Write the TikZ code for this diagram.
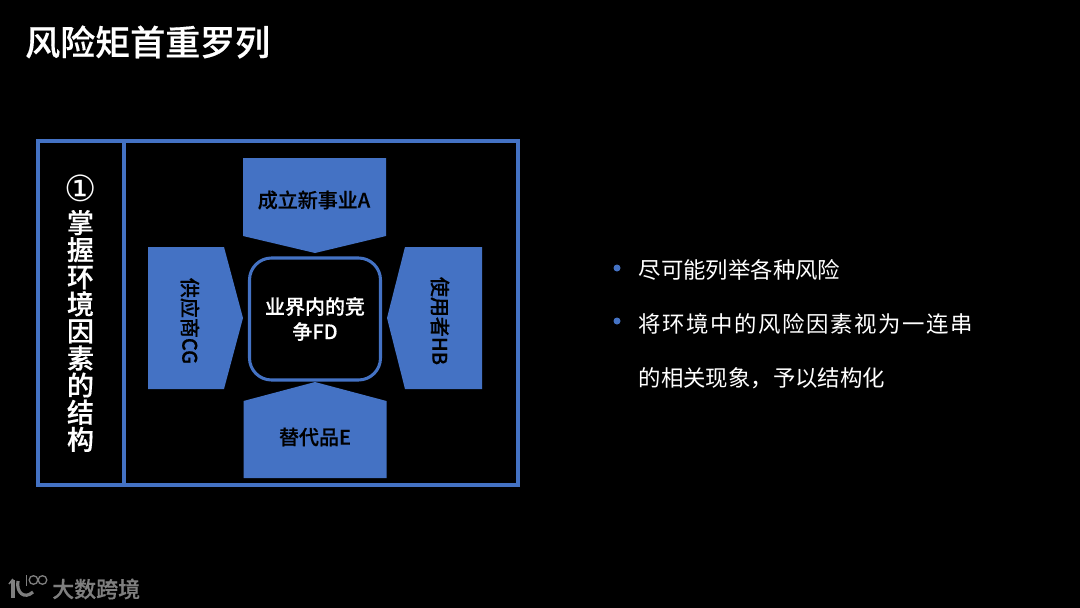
\documentclass[tikz,border=0pt]{standalone}
\usepackage{fontspec}
\setmainfont{Noto Sans CJK SC}[BoldFont={Noto Sans CJK SC Medium},BoldFeatures={FakeBold=0.35}]
\newfontfamily\sidefont{Noto Sans CJK SC Medium}[FakeBold=0.5]
\newfontfamily\symfont{DejaVu Sans}
\definecolor{blu}{HTML}{4472C4}
\definecolor{gry}{HTML}{7F7F7F}
\tikzset{
  frameline/.style={draw=blu,line width=3.05pt},
  pent/.style={fill=blu,draw=none},
  blk/.style={text=black,font=\fontsize{20}{24}\selectfont\bfseries,inner sep=0pt},
  wht/.style={text=white,inner sep=0pt},
  body/.style={wht,anchor=west,font=\fontsize{22.4}{26}\selectfont},
  dot/.style={circle,fill=blu,minimum size=7pt,inner sep=0pt},
}
\begin{document}
\begin{tikzpicture}[x=1pt,y=-1pt]
\fill[black] (0,0) rectangle (1080,608);
\useasboundingbox (0,0) rectangle (1080,608);
\node[wht,anchor=west,font=\fontsize{35}{40}\selectfont\bfseries] (title) at (25,42) {风险矩首重罗列};
\draw[frameline] (38,141) rectangle (518,485);
\draw[frameline] (124,141) -- (124,485);
\node[wht,font=\fontsize{36}{36}\symfont] (num) at (80.5,188) {①};
\node[wht,font=\fontsize{27}{27.1}\selectfont\sidefont,align=center,text width=30pt] (side) at (80.5,331) {掌\\握\\环\\境\\因\\素\\的\\结\\构};
\fill[pent] (243,158) -- (386,158) -- (386,236) -- (315,253) -- (243,236) -- cycle;
\node[blk] (a) at (314,200) {成立新事业A};
\fill[pent] (148,247) -- (224,247) -- (243,318) -- (224,389) -- (148,389) -- cycle;
\node[blk,rotate=-90] (c) at (190,321) {供应商CG};
\fill[pent] (482,247) -- (405,247) -- (387,318) -- (405,389) -- (482,389) -- cycle;
\node[blk,rotate=-90] (h) at (440,321) {使用者HB};
\fill[pent] (243.5,478) -- (386.5,478) -- (386.5,401) -- (315,382) -- (243.5,401) -- cycle;
\node[blk] (e) at (315,437) {替代品E};
\draw[frameline,fill=black,rounded corners=22pt] (249.5,258) rectangle (380.5,380);
\node[wht,font=\fontsize{20}{25}\selectfont\bfseries,align=center] (f) at (315,319) {业界内的竞\\争FD};
\node[dot] (b1) at (617,268) {};
\node[dot] (b2) at (617,321) {};
\node[body] (t1) at (638.5,270) {尽可能列举各种风险};
\node[body] (t2) at (638.5,324) {\addfontfeatures{LetterSpace=7}将环境中的风险因素视为一连串};
\node[body] (t3) at (638.5,378) {的相关现象，予以结构化};
% logo
\draw[gry,line width=4pt] (13,580) -- (13,598);
\draw[gry,line width=1.5pt] (9,584) -- (13,579);
\draw[gry,line width=3.2pt] (18,581) .. controls (16,592) and (24,600) .. (33,592);
\draw[gry,line width=1.3pt] (26.5,575) -- (26.5,586);
\draw[gry,line width=1.3pt] (33.5,580) circle (4.3);
\draw[gry,line width=1.3pt] (42.5,580) circle (4.3);
\node[anchor=west,inner sep=0pt,text=gry,font=\fontsize{22}{24}\selectfont\bfseries] (logo) at (52,589) {大数跨境};
\end{tikzpicture}
\end{document}
